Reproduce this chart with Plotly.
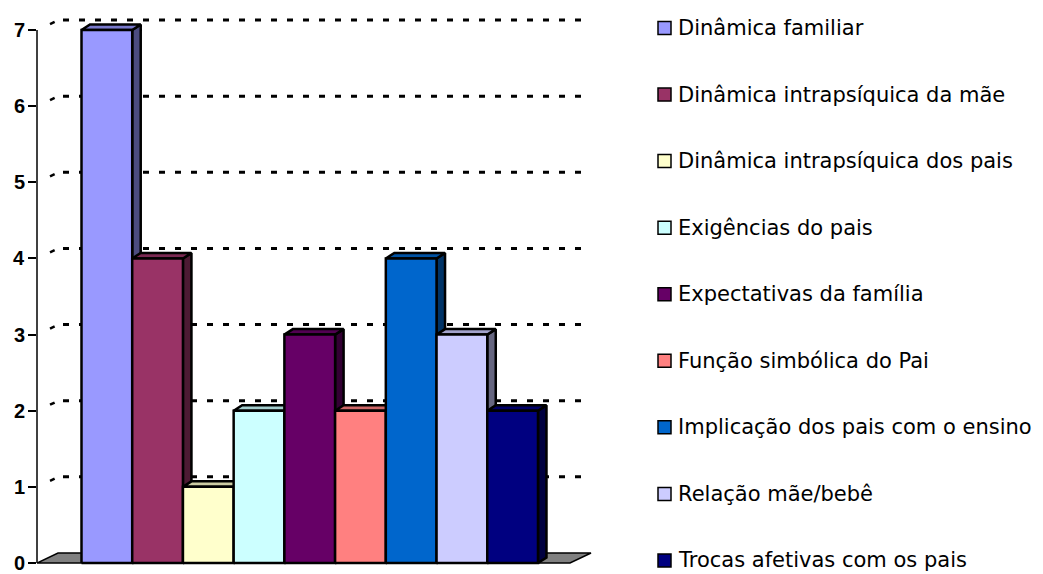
import plotly.graph_objects as go

# ---- data ---------------------------------------------------------------
categories = [
    "Dinâmica familiar",
    "Dinâmica intrapsíquica da mãe",
    "Dinâmica intrapsíquica dos pais",
    "Exigências do pais",
    "Expectativas da família",
    "Função simbólica do Pai",
    "Implicação dos pais com o ensino",
    "Relação mãe/bebê",
    "Trocas afetivas com os pais",
]
values = [7, 4, 1, 2, 3, 2, 4, 3, 2]
bar_colors = ["#9999FF", "#993366", "#FFFFCC", "#CCFFFF", "#660066",
              "#FF8080", "#0066CC", "#CCCCFF", "#000080"]
y_ticks = [0, 1, 2, 3, 4, 5, 6, 7]
y_tick_labels = ["0", "1", "2", "3", "4", "5", "6", "7"]

# ---- page layout (pixels) -----------------------------------------------
W, H = 1043, 574
PLOT_L, PLOT_R, PLOT_T, PLOT_B = 37, 600, 8, 572
BAR0_LEFT_PX, BAR_W_PX = 81.5, 50.72       # left edge of first bar, bar width
ZERO_PX, UNIT_PX = 563.0, 76.14            # pixel row of y=0, pixels per unit

# oblique projection offsets (pixels)
BAR_DX_PX, BAR_DY_PX = 8.5, 5.5            # depth of each bar
WALL_DX_PX, WALL_DY_PX = 21.0, 10.0        # depth of floor / back wall

x_range = [(PLOT_L - BAR0_LEFT_PX) / BAR_W_PX - 0.5,
           (PLOT_R - BAR0_LEFT_PX) / BAR_W_PX - 0.5]
y_range = [(ZERO_PX - PLOT_B) / UNIT_PX, (ZERO_PX - PLOT_T) / UNIT_PX]

bdx, bdy = BAR_DX_PX / BAR_W_PX, BAR_DY_PX / UNIT_PX
wdx, wdy = WALL_DX_PX / BAR_W_PX, WALL_DY_PX / UNIT_PX
x_axis = x_range[0]
x_floor_end = (570 - BAR0_LEFT_PX) / BAR_W_PX - 0.5


def shade(hex_color, f):
    h = hex_color.lstrip("#")
    r, g, b = (int(h[i:i + 2], 16) for i in (0, 2, 4))
    return "rgb(%d,%d,%d)" % (round(r * f), round(g * f), round(b * f))


def poly(xs, ys, fill, lw=2.5):
    return go.Scatter(
        x=xs + [xs[0]], y=ys + [ys[0]], mode="lines", fill="toself",
        fillcolor=fill, line=dict(color="black", width=lw),
        hoverinfo="skip", showlegend=False,
    )


fig = go.Figure()

# floor
fig.add_trace(poly(
    [x_axis, x_floor_end, x_floor_end + wdx, x_axis + wdx],
    [0, 0, wdy, wdy], "#808080", lw=1.5))

# gridlines on the back wall plus the short stub on the side wall
grid_x0 = x_axis + wdx + 5 / BAR_W_PX
for v in y_ticks[1:]:
    fig.add_trace(go.Scatter(
        x=[grid_x0, x_floor_end + wdx], y=[v + wdy, v + wdy], mode="lines",
        line=dict(color="black", width=3, dash="6px,10px"),
        hoverinfo="skip", showlegend=False))
    fig.add_trace(go.Scatter(
        x=[x_axis + 0.62 * wdx, x_axis + 0.84 * wdx],
        y=[v + 0.6 * wdy, v + 0.82 * wdy], mode="lines",
        line=dict(color="black", width=2.5),
        hoverinfo="skip", showlegend=False))

# 3-D bars, painted left to right: side, top, then front face
for i, (v, c) in enumerate(zip(values, bar_colors)):
    x0, x1 = i - 0.5, i + 0.5
    fig.add_trace(poly([x1, x1, x1 + bdx, x1 + bdx],
                       [0, v, v + bdy, bdy], shade(c, 0.5)))
    fig.add_trace(poly([x0, x1, x1 + bdx, x0 + bdx],
                       [v, v, v + bdy, v + bdy], shade(c, 0.8)))
    fig.add_trace(poly([x0, x1, x1, x0], [0, 0, v, v], c))


def px_x(px):
    return (px - PLOT_L) / (PLOT_R - PLOT_L)


def px_y(py):
    return (PLOT_B - py) / (PLOT_B - PLOT_T)


# value axis line
shapes = [dict(type="line", xref="paper", yref="y", x0=0, x1=0,
               y0=y_ticks[0], y1=y_ticks[-1],
               line=dict(color="black", width=1.5), layer="above")]

# bold value-axis labels
annotations = [dict(
    xref="paper", yref="y", x=px_x(27), y=v, xanchor="right",
    yanchor="middle", text=t, showarrow=False,
    font=dict(family="Arial", size=20, color="black", weight="bold"))
    for v, t in zip(y_ticks, y_tick_labels)]

# legend on the right
LEG_SQ_CX, LEG_SQ = 664.5, 13
LEG_TOP, LEG_STEP = 28.0, 66.56
for i, (name, c) in enumerate(zip(categories, bar_colors)):
    cy = LEG_TOP + i * LEG_STEP
    shapes.append(dict(
        type="rect", xref="paper", yref="paper",
        x0=px_x(LEG_SQ_CX - LEG_SQ / 2), x1=px_x(LEG_SQ_CX + LEG_SQ / 2),
        y0=px_y(cy + LEG_SQ / 2), y1=px_y(cy - LEG_SQ / 2),
        fillcolor=c, line=dict(color="black", width=1.5)))
    annotations.append(dict(
        xref="paper", yref="paper", x=px_x(676), y=px_y(cy),
        xanchor="left", yanchor="middle", text=name, showarrow=False,
        font=dict(family="DejaVu Sans", size=21, color="black")))

fig.update_layout(
    template="none",
    width=W, height=H,
    margin=dict(l=PLOT_L, r=W - PLOT_R, t=PLOT_T, b=H - PLOT_B),
    paper_bgcolor="white", plot_bgcolor="white",
    showlegend=False,
    shapes=shapes, annotations=annotations,
    xaxis=dict(range=x_range, visible=False, fixedrange=True),
    yaxis=dict(range=y_range, tickmode="array", tickvals=y_ticks,
               showticklabels=False,
               ticks="outside", ticklen=8, tickwidth=1.5, tickcolor="black",
               showgrid=False, zeroline=False, showline=False,
               automargin=False, fixedrange=True),
)

fig.write_html("out.html")
